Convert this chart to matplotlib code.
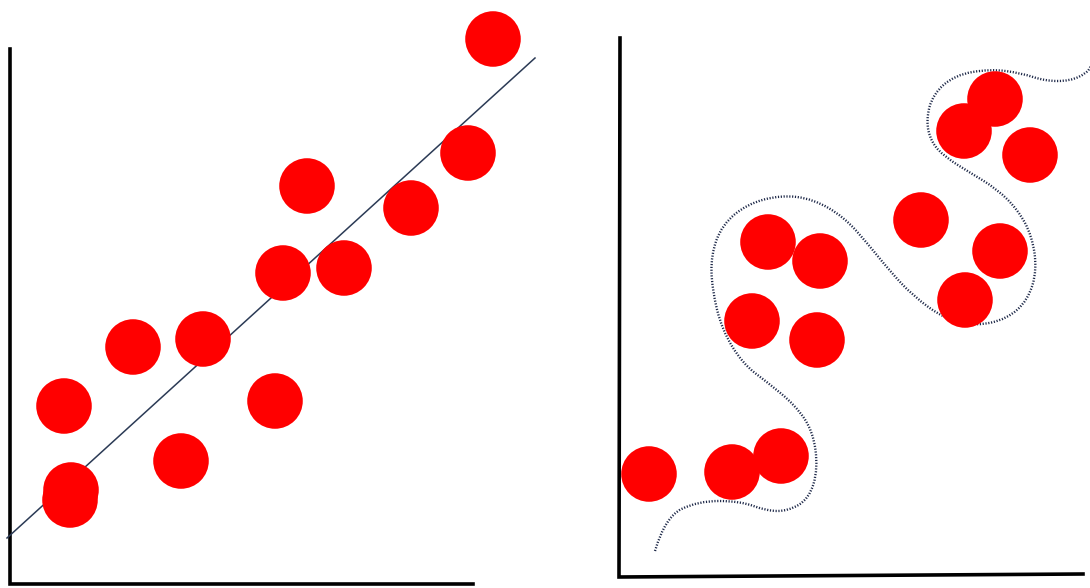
import matplotlib
matplotlib.use("Agg")
import matplotlib.pyplot as plt
from matplotlib.path import Path
from matplotlib.patches import PathPatch

# ── Linke Skizze: Punkte + lineare Regressionsgerade (Bildkoordinaten, px) ──
left_x = [493, 468, 411, 307, 344, 283, 203, 133, 64, 275, 181, 71, 70]
left_y = [39, 153, 208, 186, 268, 273, 339, 347, 406, 401, 461, 490, 500]
fit_x = [7, 535]
fit_y = [538, 58]

# ── Rechte Skizze: Punkte + überangepasste Kurve ──
right_x = [995, 964, 1030, 921, 1000, 965, 768, 820, 752, 817, 649, 732, 781]
right_y = [99, 131, 155, 220, 251, 300, 242, 261, 321, 340, 474, 472, 456]
curve_x = [655, 665, 698, 740, 767, 788, 809, 818, 813, 795, 767, 743, 722,
           712, 711, 722, 747, 781, 813, 844, 868, 889, 913, 945, 976, 1007,
           1028, 1037, 1032, 1018, 997, 969, 945, 931, 926, 933, 955, 990,
           1021, 1045, 1070, 1087, 1092]
curve_y = [551, 517, 501, 501, 511, 511, 499, 469, 431, 405, 382, 364, 330,
           289, 255, 225, 204, 195, 199, 217, 244, 270, 296, 319, 326, 319,
           300, 270, 236, 210, 189, 172, 157, 142, 120, 94, 75, 69,
           73, 81, 81, 73, 64]

# Achsen der Skizzen
left_axis_x = [10, 10, 473]
left_axis_y = [49, 584, 584]
right_axis_x = [620, 619, 1083]
right_axis_y = [38, 577, 574]


def smooth_path(xs, ys):
    """Glatter Pfad: Stützpunkte als Kontrollpunkte quadratischer Bézier-Stücke."""
    pts = list(zip(xs, ys))
    verts = [pts[0]]
    codes = [Path.MOVETO]
    for i in range(1, len(pts) - 1):
        mid = ((pts[i][0] + pts[i + 1][0]) / 2, (pts[i][1] + pts[i + 1][1]) / 2)
        verts += [pts[i], mid]
        codes += [Path.CURVE3, Path.CURVE3]
    verts.append(pts[-1])
    codes.append(Path.LINETO)
    return Path(verts, codes)


fig = plt.figure(figsize=(10.9, 5.88), dpi=100)
ax = fig.add_axes([0, 0, 1, 1])
ax.set_xlim(0, 1090)
ax.set_ylim(588, 0)
ax.axis("off")

dot_size = 40 ** 2  # ~55 px Durchmesser

# links
ax.plot(left_axis_x, left_axis_y, color="black", linewidth=2.6,
        solid_joinstyle="miter", zorder=1)
ax.plot(fit_x, fit_y, color="#2b3a55", linewidth=1.1, zorder=2)
ax.scatter(left_x, left_y, s=dot_size, color="#ff0000", edgecolors="none",
           zorder=3)

# rechts
ax.plot(right_axis_x, right_axis_y, color="black", linewidth=2.6,
        solid_joinstyle="miter", zorder=1)
ax.add_patch(PathPatch(smooth_path(curve_x, curve_y), facecolor="none",
                       edgecolor="#1c2747", linewidth=1.7,
                       linestyle=(0, (0.5, 0.7)), zorder=2))
ax.scatter(right_x, right_y, s=dot_size, color="#ff0000", edgecolors="none",
           zorder=3)

fig.savefig("out.png", dpi=100, facecolor="white")
